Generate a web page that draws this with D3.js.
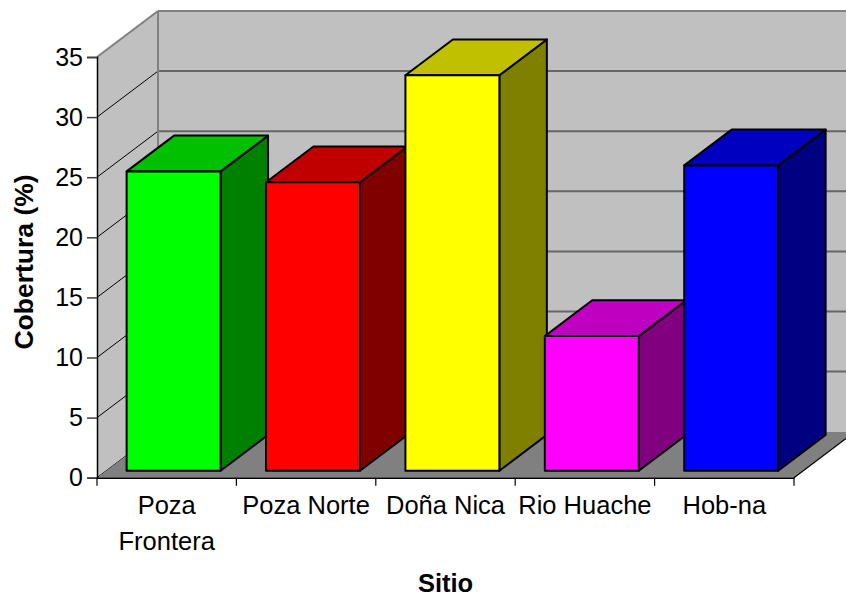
<!DOCTYPE html>
<html>
<head>
<meta charset="utf-8">
<script src="https://cdn.jsdelivr.net/npm/d3@7"></script>
<style>
body { margin: 0; background: #fff; }
text { font-family: Arial, "Liberation Sans", sans-serif; }
</style>
</head>
<body>
<div id="chart"></div>
<script>
// Chart data
const sites = ["Poza Frontera", "Poza Norte", "Doña Nica", "Rio Huache", "Hob-na"];
const siteLines = [["Poza", "Frontera"], ["Poza Norte"], ["Doña Nica"], ["Rio Huache"], ["Hob-na"]];
const cover = [24.9, 24.0, 32.9, 11.2, 25.4];
const yTicks = [0, 5, 10, 15, 20, 25, 30, 35];
// front, top, side colours of each bar
const frontColors = ["#00ff00", "#ff0000", "#ffff00", "#ff00ff", "#0000ff"];
const topColors = ["#00c000", "#c00000", "#c0c000", "#c000c0", "#0000c0"];
const sideColors = ["#008000", "#800000", "#808000", "#800080", "#000080"];

const w = 846, h = 597;
// depth of the 3D box
const dx = 61, dy = -46;
// bars sit between these depth fractions
const z0 = 0.152, z1 = 0.93;

const svg = d3.select("#chart").append("svg")
  .attr("width", w).attr("height", h);

const x = d3.scaleBand().domain(sites).range([97, 794]);
const y = d3.scaleLinear().domain([0, 35]).range([477.7, 57]);

// project a point (screen x at front, value, depth) to screen
function p(px, v, z) {
  return [px + z * dx, y(v) + z * dy];
}
const line = d3.line();

const yMax = 35;
const x0 = x.range()[0], x1 = x.range()[1];

// back wall
svg.append("rect")
  .attr("x", x0 + dx).attr("y", y(yMax) + dy)
  .attr("width", w - (x0 + dx)).attr("height", y(0) - y(yMax))
  .attr("fill", "#c0c0c0");
// left wall
svg.append("path")
  .attr("d", line([p(x0, yMax, 0), p(x0, yMax, 1), p(x0, 0, 1), p(x0, 0, 0)]) + "Z")
  .attr("fill", "#c0c0c0");

// gridlines on back wall and left wall
yTicks.forEach(t => {
  if (t > 0) {
    svg.append("line")
      .attr("x1", x0 + dx).attr("x2", w)
      .attr("y1", y(t) + dy).attr("y2", y(t) + dy)
      .attr("stroke", t === yMax ? "#808080" : "#666").attr("stroke-width", 2);
  }
  svg.append("line")
    .attr("x1", x0).attr("y1", y(t))
    .attr("x2", x0 + dx).attr("y2", y(t) + dy)
    .attr("stroke", t === yMax ? "#808080" : "#000")
    .attr("stroke-width", t === yMax ? 2 : 1);
});
// back vertical edge
svg.append("line")
  .attr("x1", x0 + dx).attr("x2", x0 + dx)
  .attr("y1", y(yMax) + dy).attr("y2", y(0) + dy)
  .attr("stroke", "#808080").attr("stroke-width", 2);

// floor
svg.append("path")
  .attr("d", line([p(x0, 0, 0), p(x1, 0, 0), p(x1, 0, 1), p(x0, 0, 1)]) + "Z")
  .attr("fill", "#808080");
svg.append("line")
  .attr("x1", x1).attr("y1", y(0))
  .attr("x2", x1 + dx).attr("y2", y(0) + dy)
  .attr("stroke", "#000").attr("stroke-width", 1.2);

// bars
const bw = x.bandwidth() * 0.674;
const boff = x.bandwidth() * 0.146;
const bars = svg.selectAll("g.bar")
  .data(sites)
  .enter().append("g").attr("class", "bar");

bars.each(function(s, i) {
  const g = d3.select(this);
  const v = cover[i];
  const l = x(s) + boff, r = l + bw;
  // side face
  g.append("path")
    .attr("d", line([p(r, 0, z0), p(r, v, z0), p(r, v, z1), p(r, 0, z1)]) + "Z")
    .attr("fill", sideColors[i]).attr("stroke", "#000").attr("stroke-width", 2)
    .attr("stroke-linejoin", "round");
  // top face
  g.append("path")
    .attr("d", line([p(l, v, z0), p(r, v, z0), p(r, v, z1), p(l, v, z1)]) + "Z")
    .attr("fill", topColors[i]).attr("stroke", "#000").attr("stroke-width", 2)
    .attr("stroke-linejoin", "round");
  // front face
  g.append("path")
    .attr("d", line([p(l, 0, z0), p(r, 0, z0), p(r, v, z0), p(l, v, z0)]) + "Z")
    .attr("fill", frontColors[i]).attr("stroke", "#000").attr("stroke-width", 2)
    .attr("stroke-linejoin", "round");
});

// y axis
const yAxis = svg.append("g")
  .attr("transform", `translate(${x0},0)`)
  .call(d3.axisLeft(y).tickValues(yTicks).tickSize(10).tickPadding(4));
yAxis.select(".domain").attr("stroke", "#000").attr("stroke-width", 1.5);
yAxis.selectAll(".tick line").attr("stroke", "#404040").attr("stroke-width", 1.5);
yAxis.selectAll(".tick text")
  .attr("font-size", 25)
  .attr("fill", "#000");

// x axis
const xAxis = svg.append("g")
  .attr("transform", `translate(0,${y(0)})`)
  .call(d3.axisBottom(x).tickSize(0).tickFormat(""));
xAxis.select(".domain").attr("stroke", "#000").attr("stroke-width", 1.5);
// tick marks between categories
const edges = sites.map(s => x(s)).concat([x1]);
svg.selectAll("line.xtick")
  .data(edges)
  .enter().append("line").attr("class", "xtick")
  .attr("x1", d => d).attr("x2", d => d)
  .attr("y1", y(0)).attr("y2", y(0) + 8)
  .attr("stroke", "#000").attr("stroke-width", 1.2);

// category labels
sites.forEach((s, i) => {
  const t = svg.append("text")
    .attr("x", x(s) + x.bandwidth() / 2)
    .attr("y", 514)
    .attr("text-anchor", "middle")
    .attr("font-size", 25.5)
    .attr("fill", "#000");
  siteLines[i].forEach((ln, j) => {
    t.append("tspan")
      .attr("x", x(s) + x.bandwidth() / 2)
      .attr("dy", j === 0 ? 0 : 36)
      .text(ln);
  });
});

// axis titles
svg.append("text")
  .attr("x", (x0 + x1) / 2).attr("y", 592)
  .attr("text-anchor", "middle")
  .attr("font-size", 25.5).attr("font-weight", "bold")
  .text("Sitio");

svg.append("text")
  .attr("transform", "translate(33,262) rotate(-90)")
  .attr("text-anchor", "middle")
  .attr("font-size", 26.5).attr("font-weight", "bold")
  .text("Cobertura (%)");
</script>
</body>
</html>
